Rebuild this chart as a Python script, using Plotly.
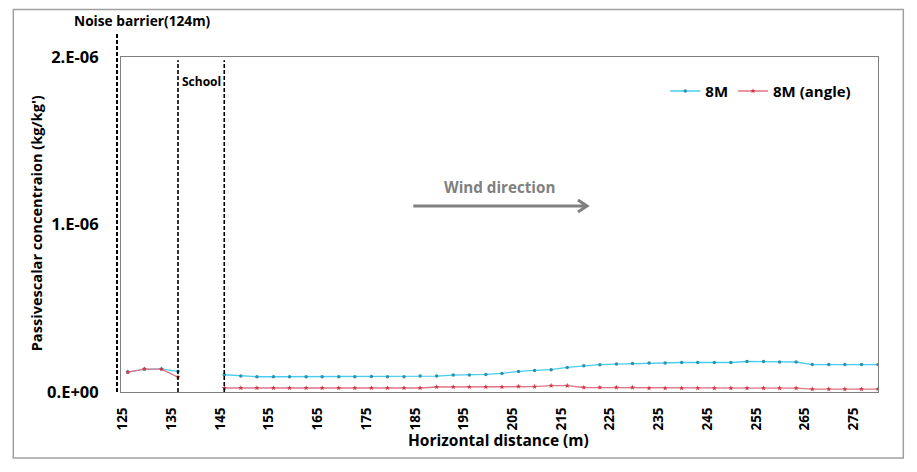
import plotly.graph_objects as go

# ---- data ----
x_seg1 = [126.0, 129.4, 132.9, 136.3]
x_seg2 = [145.8, 149.2, 152.5, 155.9, 159.2, 162.6, 165.9, 169.3, 172.6, 176.0,
          179.3, 182.7, 186.0, 189.4, 192.8, 196.1, 199.5, 202.8, 206.2, 209.5,
          212.9, 216.2, 219.6, 222.9, 226.3, 229.6, 233.0, 236.3, 239.7, 243.0,
          246.4, 249.8, 253.1, 256.5, 259.8, 263.2, 266.5, 269.9, 273.2, 276.6, 280.0]

m8_seg1 = [1.19e-7, 1.37e-7, 1.37e-7, 1.23e-7]
m8_seg2 = [1.03e-7, 0.95e-7, 0.91e-7, 0.91e-7, 0.91e-7, 0.91e-7, 0.91e-7, 0.91e-7, 0.91e-7, 0.93e-7,
           0.91e-7, 0.91e-7, 0.95e-7, 0.95e-7, 1.01e-7, 1.01e-7, 1.05e-7, 1.11e-7, 1.23e-7, 1.29e-7,
           1.33e-7, 1.47e-7, 1.57e-7, 1.63e-7, 1.67e-7, 1.70e-7, 1.73e-7, 1.73e-7, 1.76e-7, 1.76e-7,
           1.76e-7, 1.76e-7, 1.82e-7, 1.82e-7, 1.79e-7, 1.79e-7, 1.64e-7, 1.64e-7, 1.64e-7, 1.64e-7, 1.64e-7]

ang_seg1 = [1.19e-7, 1.37e-7, 1.37e-7, 0.89e-7]
ang_seg2 = [0.24e-7, 0.24e-7, 0.24e-7, 0.24e-7, 0.24e-7, 0.24e-7, 0.24e-7, 0.24e-7, 0.24e-7, 0.24e-7,
            0.24e-7, 0.24e-7, 0.24e-7, 0.30e-7, 0.30e-7, 0.30e-7, 0.30e-7, 0.30e-7, 0.33e-7, 0.32e-7,
            0.38e-7, 0.38e-7, 0.27e-7, 0.27e-7, 0.27e-7, 0.27e-7, 0.23e-7, 0.23e-7, 0.23e-7, 0.23e-7,
            0.23e-7, 0.23e-7, 0.23e-7, 0.23e-7, 0.23e-7, 0.23e-7, 0.17e-7, 0.17e-7, 0.17e-7, 0.17e-7, 0.17e-7]

x_ticks = list(range(125, 276, 10))
y_ticks = [0, 1e-6, 2e-6]
y_ticklabels = ["0.E+00", "1.E-06", "2.E-06"]
noise_barrier_x = 124
school_x = [136.3, 145.8]

FONT = "Open Sans"

x_all = x_seg1 + [None] + x_seg2
fig = go.Figure()
fig.add_trace(go.Scatter(
    x=x_all, y=m8_seg1 + [None] + m8_seg2, name="8M", mode="lines+markers",
    line=dict(color="#48CDEE", width=1.3),
    marker=dict(color="#2B93B0", size=3.5, symbol="circle"),
))
fig.add_trace(go.Scatter(
    x=x_all, y=ang_seg1 + [None] + ang_seg2, name="8M (angle)", mode="lines+markers",
    line=dict(color="#E07585", width=1.3),
    marker=dict(color="#C83848", size=4, symbol="star"),
))

# page is rendered with an 8px body margin -> figure origin at page (8, 8)
OFF = 8
PW, PH = 917, 472
W, H = PW - OFF, PH - OFF
L, R, T, B = 120.7, 877.7, 56.7, 392.3   # plot area in page pixels
pw, ph = R - L, B - T
def px(xp):
    return (xp - L) / pw
def py(yp):
    return (B - yp) / ph

shapes = []
# outer frame
shapes.append(dict(type="rect", xref="paper", yref="paper",
                   x0=px(13), x1=px(903), y0=py(458.3), y1=py(9),
                   line=dict(color="#A0A0A0", width=1.5)))
# noise barrier line (just left of plot)
shapes.append(dict(type="line", xref="paper", yref="paper",
                   x0=px(116.7), x1=px(116.7), y0=0, y1=py(31.7),
                   line=dict(color="black", width=2, dash="4px,2px")))
# school lines
for sx in school_x:
    shapes.append(dict(type="line", xref="x", yref="paper",
                       x0=sx, x1=sx, y0=0, y1=py(60),
                       line=dict(color="black", width=1.6, dash="4px,2px")))
# wind arrow
ax0, ax1, ay = px(413), px(586.7), py(206)
hx, hy = 9 / pw, 6 / ph
shapes.append(dict(type="path", xref="paper", yref="paper",
                   path=f"M {ax0},{ay} L {ax1},{ay} M {ax1-hx},{ay+hy} L {ax1},{ay} L {ax1-hx},{ay-hy}",
                   line=dict(color="#808080", width=3)))

bold = dict(family=FONT, color="black", weight="bold")
annotations = [
    dict(text="Noise barrier(124m)", xref="paper", yref="paper", x=px(142.5), y=py(20),
         showarrow=False, font=dict(size=13.7, **bold), xanchor="center", yanchor="middle"),
    dict(text="School", xref="paper", yref="paper", x=px(201.5), y=py(81.7),
         showarrow=False, font=dict(size=12, **bold), xanchor="center", yanchor="middle"),
    dict(text="Wind direction", xref="paper", yref="paper", x=px(499), y=py(186.7),
         showarrow=False, font=dict(size=15.2, family=FONT, color="#808080", weight="bold"),
         xanchor="center", yanchor="middle"),
    dict(text="Horizontal distance (m)", xref="paper", yref="paper", x=px(498), y=py(440),
         showarrow=False, font=dict(size=15.5, **bold), xanchor="center", yanchor="middle"),
    dict(text="Passivescalar concentraion (kg/kg')", xref="paper", yref="paper", x=px(36), y=py(223),
         showarrow=False, textangle=-90, font=dict(size=14.6, **bold), xanchor="center", yanchor="middle"),
]

fig.update_layout(
    width=W, height=H,
    margin=dict(l=L - OFF, r=PW - R, t=T - OFF, b=PH - B, pad=0),
    paper_bgcolor="white", plot_bgcolor="white",
    showlegend=True,
    legend=dict(orientation="h", x=px(665), y=py(91), xanchor="left", yanchor="middle",
                font=dict(size=15, **bold), bgcolor="rgba(0,0,0,0)",
                itemwidth=30, tracegroupgap=0),
    shapes=shapes, annotations=annotations,
    font=dict(family=FONT),
)
fig.update_xaxes(range=[124.6, 280], tickvals=x_ticks, ticktext=[str(v) for v in x_ticks],
                 tickangle=-90, tickfont=dict(size=13.5, **bold), showgrid=False, zeroline=False,
                 showline=True, linecolor="#808080", linewidth=1, mirror=True, ticks="",
                 ticklabelstandoff=9)
fig.update_yaxes(range=[0, 2e-6], tickvals=y_ticks, ticktext=y_ticklabels,
                 tickfont=dict(size=16.5, **bold), showgrid=False, zeroline=False,
                 showline=True, linecolor="#808080", linewidth=1, mirror=True, ticks="",
                 ticklabelstandoff=18)

fig.write_html("out.html")
